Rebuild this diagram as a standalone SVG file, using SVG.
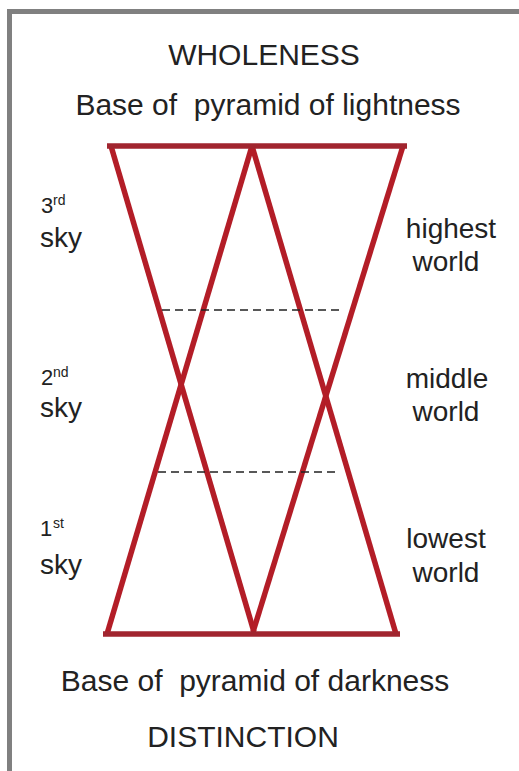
<svg xmlns="http://www.w3.org/2000/svg" width="519" height="771" viewBox="0 0 519 771">
<style>
.t{font-family:"Liberation Sans",Arial,sans-serif;fill:#222;}
.big{font-size:30px;}
.lab{font-size:28px;}
.num{font-size:22px;}
.sup{font-size:14px;}
.base{stroke:#a1252f;stroke-width:5.5;fill:none;}
.diag{stroke:#b31d27;stroke-width:5.5;fill:none;stroke-linecap:butt;}
.dash{stroke:#222;stroke-width:1.5;stroke-dasharray:8 5;fill:none;}
</style>
<rect width="519" height="771" fill="#ffffff"/>
<path d="M9.5,771 V11.5 H519" fill="none" stroke="#808080" stroke-width="5"/>

<g id="titles">
<text class="t big" x="264" y="65" text-anchor="middle">WHOLENESS</text>
<text class="t big" x="268" y="115" text-anchor="middle" style="white-space:pre">Base of  pyramid of lightness</text>
<text class="t big" x="255" y="691" text-anchor="middle" style="white-space:pre">Base of  pyramid of darkness</text>
<text class="t big" x="243" y="747" text-anchor="middle">DISTINCTION</text>
</g>

<g id="connectors">
<line class="diag" x1="111" y1="146" x2="254" y2="632"/>
<line class="diag" x1="403" y1="146" x2="253" y2="632"/>
<line class="diag" x1="252" y1="146" x2="107" y2="634"/>
<line class="diag" x1="252" y1="146" x2="396" y2="634"/>
<line class="base" x1="107" y1="146" x2="407" y2="146"/>
<line class="base" x1="103" y1="634" x2="400" y2="634"/>
<line class="dash" x1="162" y1="310" x2="342" y2="310"/>
<line class="dash" x1="158" y1="472" x2="338" y2="472"/>
</g>

<g id="sky3">
<text class="t num" x="41" y="213">3</text>
<text class="t sup" x="53" y="205">rd</text>
<text class="t lab" x="40" y="247">sky</text>
</g>
<g id="sky2">
<text class="t num" x="41" y="385">2</text>
<text class="t sup" x="53" y="377">nd</text>
<text class="t lab" x="40" y="417">sky</text>
</g>
<g id="sky1">
<text class="t num" x="40" y="536">1</text>
<text class="t sup" x="53" y="528">st</text>
<text class="t lab" x="40" y="574">sky</text>
</g>

<g id="world-high">
<text class="t lab" x="451" y="238" text-anchor="middle">highest</text>
<text class="t lab" x="446" y="271" text-anchor="middle">world</text>
</g>
<g id="world-mid">
<text class="t lab" x="447" y="388" text-anchor="middle">middle</text>
<text class="t lab" x="446" y="421" text-anchor="middle">world</text>
</g>
<g id="world-low">
<text class="t lab" x="446" y="548" text-anchor="middle">lowest</text>
<text class="t lab" x="446" y="582" text-anchor="middle">world</text>
</g>
</svg>
